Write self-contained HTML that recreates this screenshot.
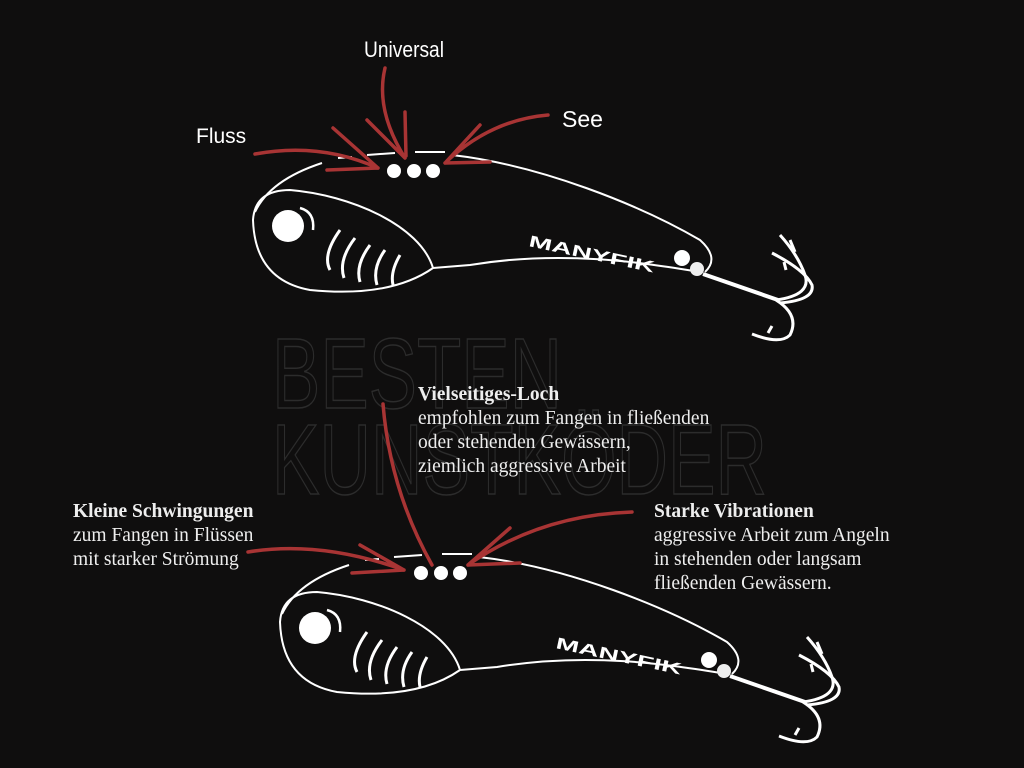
<!DOCTYPE html>
<html><head><meta charset="utf-8"><style>
html,body{margin:0;padding:0;background:#0f0e0e;}
svg{display:block}
.s{font-family:"Liberation Serif",serif;fill:#eee;font-size:19.5px}
.b{font-weight:bold}
</style></head><body>
<svg width="1024" height="768" viewBox="0 0 1024 768" xmlns="http://www.w3.org/2000/svg">
<rect width="1024" height="768" fill="#0f0e0e"/>
<g font-family="Liberation Sans Narrow, Liberation Sans, sans-serif" fill="none" stroke="#2c2c2c" stroke-width="1.5" font-size="100" style="font-stretch:condensed">
<text x="272" y="408" textLength="290" lengthAdjust="spacingAndGlyphs">BESTEN</text>
<text x="272" y="494" textLength="495" lengthAdjust="spacingAndGlyphs">KUNSTKÖDER</text>
</g>
<defs>
<g id="lure">
<g fill="none" stroke="#fff" stroke-width="2">
<path d="M322,163 Q270,180 255,212"/>
<path d="M338,158 L352,157 M367,155 L395,153 M415,152 L445,152"/>
<path d="M452,155 C540,165 640,205 700,240 Q720,258 705,272"/>
<path d="M700,272 C640,262 560,250 470,265 L433,268"/>
<path d="M433,268 C420,225 350,195 290,190 Q255,190 253,220 Q255,280 310,290 Q390,298 433,268"/>
<path d="M300,208 Q315,212 313,230" stroke-width="2.5"/>
<path d="M340,230 Q322,255 330,270 M355,238 Q338,260 344,278 M370,245 Q355,265 360,282 M385,250 Q372,268 377,285 M400,255 Q390,272 393,285" stroke-width="3"/>
<path d="M703,274 L778,300" stroke-width="4"/>
<path d="M776,300 Q800,315 790,335 Q780,345 752,334 M768,333 L772,326" stroke-width="3"/>
<path d="M776,300 Q812,295 805,275 Q798,255 780,235 M795,252 L790,240" stroke-width="3"/>
<path d="M780,303 Q815,300 812,285 Q805,270 772,253 M786,270 L784,262" stroke-width="3"/>
</g>
<circle cx="288" cy="226" r="16" fill="#fff"/>
<circle cx="394" cy="171" r="7" fill="#fff"/><circle cx="414" cy="171" r="7" fill="#fff"/><circle cx="433" cy="171" r="7" fill="#fff"/>
<circle cx="682" cy="258" r="8" fill="#fff"/><circle cx="697" cy="269" r="7" fill="#eee"/>
<text x="528" y="246" transform="rotate(12 528 246)" fill="#fff" font-family="Liberation Sans, sans-serif" font-weight="bold" font-size="16" textLength="128" lengthAdjust="spacingAndGlyphs">MANYFIK</text>
</g>
</defs>
<use href="#lure"/>
<use href="#lure" transform="translate(27,402)"/>
<g fill="none" stroke="#a83434" stroke-width="3.5" stroke-linecap="round">
<path d="M255,154 Q320,142 378,168 M333,128 L378,168 M327,170 L378,168"/>
<path d="M385,68 Q375,110 405,158 M367,120 L405,158 M405,112 L406,156"/>
<path d="M548,115 Q490,120 445,163 M480,125 L445,163 M490,162 L445,163"/>
<path d="M248,552 Q320,540 404,570 M360,545 L404,570 M352,573 L404,570"/>
<path d="M383,404 Q390,490 432,565"/>
<path d="M632,512 Q540,515 468,565 M510,528 L468,565 M520,563 L468,565"/>
</g>
<text x="404" y="57" text-anchor="middle" fill="#fff" font-family="Liberation Sans Narrow, Liberation Sans, sans-serif" font-size="22" style="font-stretch:condensed" textLength="80" lengthAdjust="spacingAndGlyphs">Universal</text>
<text x="196" y="143" fill="#fff" font-family="Liberation Sans, sans-serif" font-size="21">Fluss</text>
<text x="562" y="127" fill="#fff" font-family="Liberation Sans, sans-serif" font-size="23">See</text>
<text class="s b" x="418" y="400">Vielseitiges-Loch</text>
<text class="s" x="418" y="424">empfohlen zum Fangen in fließenden</text>
<text class="s" x="418" y="448">oder stehenden Gewässern,</text>
<text class="s" x="418" y="472">ziemlich aggressive Arbeit</text>
<text class="s b" x="73" y="517">Kleine Schwingungen</text>
<text class="s" x="73" y="541">zum Fangen in Flüssen</text>
<text class="s" x="73" y="565">mit starker Strömung</text>
<text class="s b" x="654" y="517">Starke Vibrationen</text>
<text class="s" x="654" y="541">aggressive Arbeit zum Angeln</text>
<text class="s" x="654" y="565">in stehenden oder langsam</text>
<text class="s" x="654" y="589">fließenden Gewässern.</text>
</svg>
</body></html>
